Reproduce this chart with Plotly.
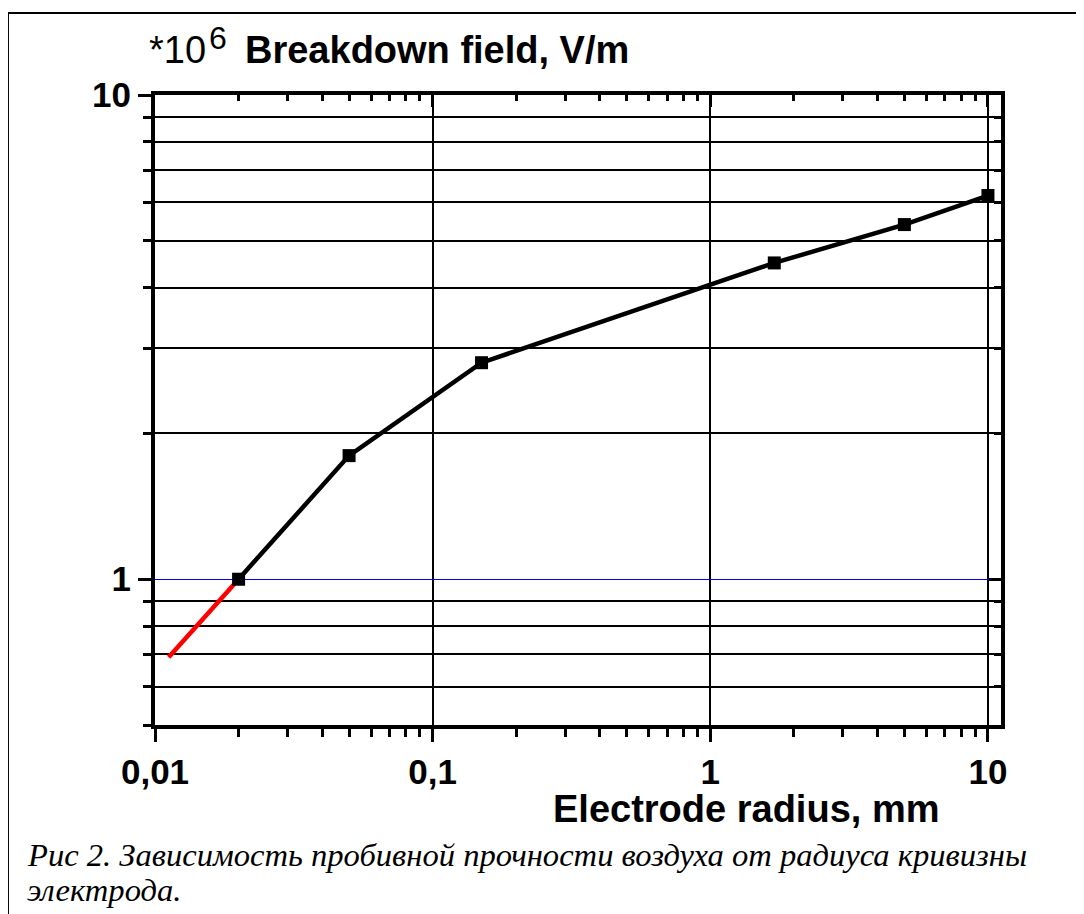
import math
import plotly.graph_objects as go

# ---- data ----
radius_mm = [0.02, 0.05, 0.15, 1.7, 5.0, 10.0]
field_1e6_Vm = [1.0, 1.8, 2.8, 4.5, 5.4, 6.2]

extrap_radius_mm = [0.0112, 0.02]
extrap_field_1e6_Vm = [0.69, 1.0]

# ---- tick values / labels ----
x_major_vals = [0.01, 0.1, 1, 10]
x_major_text = ["0,01", "0,1", "1", "10"]
x_minor_vals = [0.02, 0.03, 0.04, 0.05, 0.06, 0.07, 0.08, 0.09,
                0.2, 0.3, 0.4, 0.5, 0.6, 0.7, 0.8, 0.9,
                2, 3, 4, 5, 6, 7, 8, 9]
y_major_vals = [1, 10]
y_major_text = ["1", "10"]
y_minor_vals = [0.5, 0.6, 0.7, 0.8, 0.9, 2, 3, 4, 5, 6, 7, 8, 9]

x_range = [-2, 1.047]
y_range = [math.log10(0.5), 1]

SANS = "Liberation Sans"
SERIF = "Liberation Serif"

fig = go.Figure()

fig.add_trace(go.Scatter(
    x=extrap_radius_mm, y=extrap_field_1e6_Vm, mode="lines",
    line=dict(color="#ff0000", width=4.5), showlegend=False, hoverinfo="skip"))

fig.add_trace(go.Scatter(
    x=radius_mm, y=field_1e6_Vm, mode="lines+markers",
    line=dict(color="black", width=4.5),
    marker=dict(symbol="square", size=13, color="black"),
    showlegend=False))

# empty trace to activate the mirrored (top/right) tick axes
fig.add_trace(go.Scatter(x=[], y=[], xaxis="x2", yaxis="y2",
                         showlegend=False, hoverinfo="skip"))

tickfont = dict(family=SANS, size=35, color="black", weight="bold")

fig.update_layout(
    width=1076, height=906, autosize=False,
    paper_bgcolor="white", plot_bgcolor="white",
    margin=dict(l=147, r=83, t=87, b=189),
    xaxis=dict(
        type="log", range=x_range, showline=True, linewidth=4, linecolor="black",
        mirror=True, ticks="outside", ticklen=13, tickwidth=3, tickcolor="black",
        tickmode="array", tickvals=x_major_vals, ticktext=x_major_text,
        tickfont=tickfont, showgrid=True, gridcolor="black", gridwidth=2,
        zeroline=False,
        minor=dict(tickmode="array", tickvals=x_minor_vals, ticks="outside",
                   ticklen=8, tickwidth=3, tickcolor="black", showgrid=False),
    ),
    yaxis=dict(
        type="log", range=y_range, showline=True, linewidth=4, linecolor="black",
        mirror=True, ticks="outside", ticklen=13, tickwidth=3, tickcolor="black",
        tickmode="array", tickvals=y_major_vals, ticktext=y_major_text,
        tickfont=tickfont, showgrid=True, gridcolor="#0000ff", gridwidth=1,
        zeroline=False,
        minor=dict(tickmode="array", tickvals=y_minor_vals, ticks="outside",
                   ticklen=8, tickwidth=3, tickcolor="black",
                   showgrid=True, gridcolor="black", gridwidth=2),
    ),
    xaxis2=dict(
        type="log", range=x_range, overlaying="x", side="top", anchor="y",
        showline=False, ticks="inside", ticklen=12, tickwidth=3, tickcolor="black",
        tickmode="array", tickvals=x_major_vals, showticklabels=False,
        showgrid=False, zeroline=False,
        minor=dict(tickmode="array", tickvals=x_minor_vals, ticks="inside",
                   ticklen=6, tickwidth=3, tickcolor="black", showgrid=False),
    ),
    yaxis2=dict(
        type="log", range=y_range, overlaying="y", side="right", anchor="x",
        showline=False, ticks="inside", ticklen=12, tickwidth=3, tickcolor="black",
        tickmode="array", tickvals=y_major_vals, showticklabels=False,
        showgrid=False, zeroline=False,
        minor=dict(tickmode="array", tickvals=y_minor_vals, ticks="inside",
                   ticklen=7, tickwidth=3, tickcolor="black", showgrid=False),
    ),
)

# y-axis title (top-left): "*10", superscript "6", bold label
fig.add_annotation(
    xref="paper", yref="paper", x=-0.0095, y=1.0714, xanchor="left", yanchor="middle",
    text="*10", showarrow=False,
    font=dict(family=SANS, size=38, color="black"))
fig.add_annotation(
    xref="paper", yref="paper", x=0.0615, y=1.0905, xanchor="left", yanchor="middle",
    text="6", showarrow=False,
    font=dict(family=SANS, size=32, color="black"))
fig.add_annotation(
    xref="paper", yref="paper", x=0.104, y=1.0714, xanchor="left", yanchor="middle",
    text="<b>Breakdown field, V/m</b>", showarrow=False,
    font=dict(family=SANS, size=38, color="black"))

# x-axis title (bottom-right)
fig.add_annotation(
    xref="paper", yref="paper", x=0.928, y=-0.1335, xanchor="right", yanchor="middle",
    text="<b>Electrode radius, mm</b>", showarrow=False, borderpad=0,
    font=dict(family=SANS, size=38, color="black"))

# caption
fig.add_annotation(
    xref="paper", yref="paper", x=-0.1537, y=-0.2063, xanchor="left", yanchor="middle",
    text="<i>Рис 2. Зависимость пробивной прочности воздуха от радиуса кривизны</i>",
    showarrow=False, font=dict(family=SERIF, size=32.6, color="black"))
fig.add_annotation(
    xref="paper", yref="paper", x=-0.1537, y=-0.2619, xanchor="left", yanchor="middle",
    text="<i>электрода.</i>",
    showarrow=False, font=dict(family=SERIF, size=32.6, color="black"))

# outer document frame (top and left borders)
fig.add_shape(type="line", xref="paper", yref="paper",
              x0=-0.1738, x1=1.2, y0=1.1302, y1=1.1302,
              line=dict(color="black", width=2))
fig.add_shape(type="line", xref="paper", yref="paper",
              x0=-0.1738, x1=-0.1738, y0=1.1302, y1=-0.35,
              line=dict(color="black", width=2))

fig.write_html("out.html")
